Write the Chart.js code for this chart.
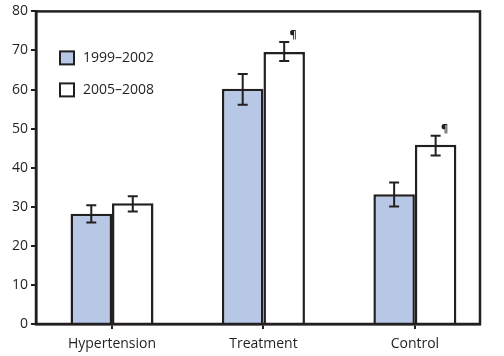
<!DOCTYPE html>
<html>
<head>
<meta charset="utf-8">
<script src="https://cdn.jsdelivr.net/npm/chart.js@4/dist/chart.umd.min.js"></script>
<style>
html,body{margin:0;padding:0;background:#fff;}
#wrap{width:504px;height:356px;}
</style>
</head>
<body>
<div id="wrap"><canvas id="c" width="504" height="356"></canvas></div>
<script>
const categories = ['Hypertension', 'Treatment', 'Control'];
const seriesNames = ['1999\u20132002', '2005\u20132008'];
const values1999 = [28.2, 60.2, 33.2];
const values2005 = [30.9, 69.6, 45.9];
const low1999 = [26.0, 56.1, 30.1];
const high1999 = [30.4, 64.0, 36.2];
const low2005 = [28.8, 67.3, 43.1];
const high2005 = [32.7, 72.2, 48.2];
const significant2005 = [false, true, true];
const yTicks = [0, 10, 20, 30, 40, 50, 60, 70, 80];

const INK = '#231f20';
const BLUE = '#b7c8e7';
const FONT = "'Open Sans', sans-serif";

const toXY = arr => arr.map((v, i) => ({x: i, y: v}));

const frameLegendErr = {
  id: 'frameLegendErr',
  afterDatasetsDraw(chart) {
    const ctx = chart.ctx;
    const a = chart.chartArea;
    const ys = chart.scales.y;
    const errs = [[low1999, high1999], [low2005, high2005]];
    ctx.save();
    ctx.strokeStyle = INK;
    ctx.lineWidth = 2;
    errs.forEach((pair, di) => {
      const meta = chart.getDatasetMeta(di);
      meta.data.forEach((bar, i) => {
        const x = bar.x;
        const yl = ys.getPixelForValue(pair[0][i]);
        const yh = ys.getPixelForValue(pair[1][i]);
        ctx.beginPath();
        ctx.moveTo(x, yl); ctx.lineTo(x, yh);
        ctx.moveTo(x - 5, yl); ctx.lineTo(x + 5, yl);
        ctx.moveTo(x - 5, yh); ctx.lineTo(x + 5, yh);
        ctx.stroke();
      });
    });
    const meta2 = chart.getDatasetMeta(1);
    ctx.fillStyle = INK;
    ctx.font = "bold 11px " + FONT;
    ctx.textAlign = 'center';
    ctx.textBaseline = 'middle';
    meta2.data.forEach((bar, i) => {
      if (significant2005[i]) {
        const yh = ys.getPixelForValue(high2005[i]);
        ctx.fillText('\u00b6', bar.x + 9, yh - 7);
      }
    });
    ctx.lineWidth = 2.5;
    ctx.strokeRect(a.left, a.top, a.right - a.left, a.bottom - a.top);
    const items = [[BLUE, seriesNames[0]], ['#ffffff', seriesNames[1]]];
    ctx.font = "14px " + FONT;
    ctx.textAlign = 'left';
    ctx.textBaseline = 'middle';
    items.forEach((it, k) => {
      const bx = a.left + 24, by = a.top + 40 + k * 32;
      ctx.fillStyle = it[0];
      ctx.fillRect(bx, by, 14, 13);
      ctx.lineWidth = 2;
      ctx.strokeStyle = INK;
      ctx.strokeRect(bx, by, 14, 13);
      ctx.fillStyle = INK;
      ctx.fillText(it[1], bx + 23, by + 7);
    });
    ctx.restore();
  }
};

new Chart(document.getElementById('c'), {
  type: 'bar',
  data: {
    datasets: [
      {label: seriesNames[0], data: toXY(values1999), backgroundColor: BLUE, borderColor: INK, borderWidth: 2.5, borderSkipped: 'bottom'},
      {label: seriesNames[1], data: toXY(values2005), backgroundColor: '#ffffff', borderColor: INK, borderWidth: 2.5, borderSkipped: 'bottom'}
    ]
  },
  options: {
    responsive: false,
    animation: false,
    devicePixelRatio: 1,
    layout: {padding: {top: 10, right: 24, left: 0, bottom: 0}},
    datasets: {bar: {categoryPercentage: 0.548, barPercentage: 1.0}},
    plugins: {legend: {display: false}, tooltip: {enabled: false}},
    scales: {
      x: {
        type: 'linear',
        offset: false,
        min: -0.502,
        max: 2.43,
        afterBuildTicks: s => { s.ticks = categories.map((c, i) => ({value: i})); },
        afterFit: s => { s.height = 32; },
        ticks: {
          callback: v => categories[v],
          color: INK,
          font: {family: FONT, size: 14},
          padding: 7,
          maxRotation: 0,
          autoSkip: false
        },
        grid: {offset: false, drawOnChartArea: false, drawTicks: true, tickLength: 5, color: INK, lineWidth: 2},
        border: {display: true, color: INK, width: 2.5}
      },
      y: {
        min: 0,
        max: 80,
        afterBuildTicks: s => { s.ticks = yTicks.map(v => ({value: v})); },
        afterFit: s => { s.width = 36; },
        ticks: {color: INK, font: {family: FONT, size: 14}, padding: 3},
        grid: {drawOnChartArea: false, drawTicks: true, tickLength: 5, color: INK, lineWidth: 2},
        border: {display: true, color: INK, width: 2.5}
      }
    }
  },
  plugins: [frameLegendErr]
});
</script>
</body>
</html>
